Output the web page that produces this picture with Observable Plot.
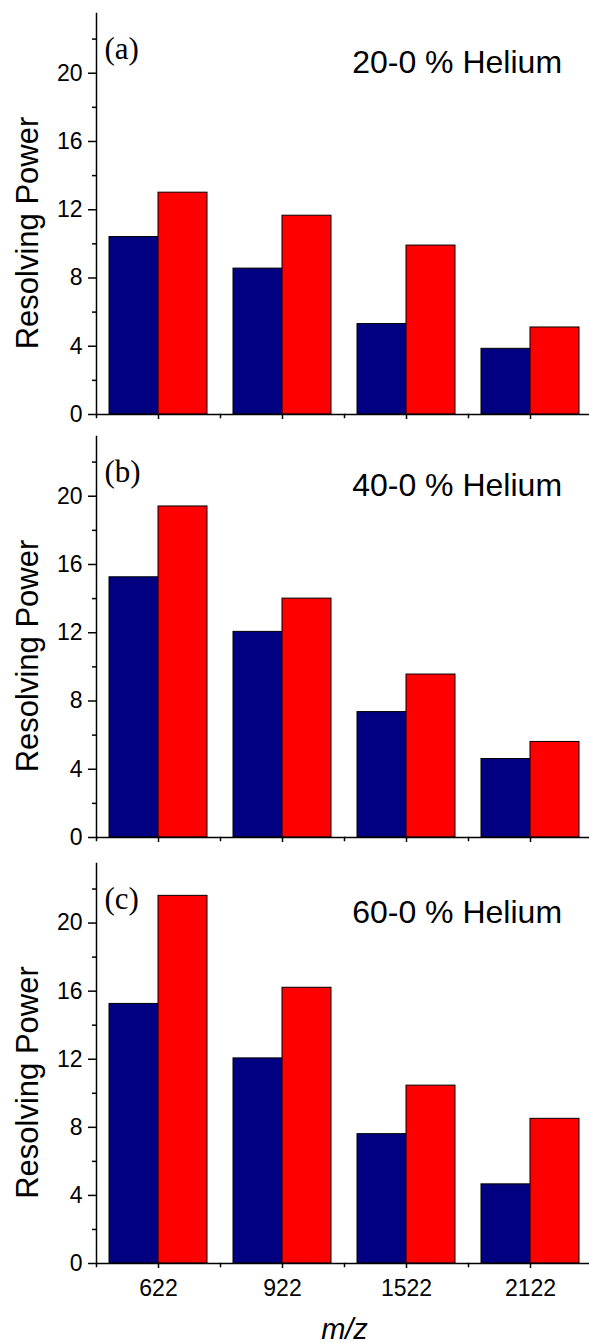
<!DOCTYPE html>
<html><head><meta charset="utf-8">
<script src="https://cdn.jsdelivr.net/npm/d3@7"></script>
<script src="https://cdn.jsdelivr.net/npm/@observablehq/plot@0.6"></script>
<style>
html,body{margin:0;padding:0;background:#fff;overflow:hidden;}
#chart svg{display:block;}
</style></head><body><div id="chart"></div>
<script>
// ---- data ----
const mzLabels = ["622", "922", "1522", "2122"];
const seriesKeys = ["series1", "series2"];
const seriesColors = ["#000080", "#ff0000"];
const panelLabels = ["(a)", "(b)", "(c)"];
const panelTitles = ["20-0 % Helium", "40-0 % Helium", "60-0 % Helium"];
const series1A = [10.4, 8.55, 5.3, 3.85];
const series2A = [13.0, 11.65, 9.9, 5.1];
const series1B = [15.25, 12.05, 7.35, 4.6];
const series2B = [19.4, 14.0, 9.55, 5.6];
const series1C = [15.25, 12.05, 7.6, 4.65];
const series2C = [21.6, 16.2, 10.45, 8.5];
const yTicks = [0, 4, 8, 12, 16, 20];
const yMinorTicks = [2, 6, 10, 14, 18, 22];
const yMax = 23.5;
const yLabel = "Resolving Power";
const xLabel = "m/z";

// ---- layout (styles) ----
const layouts = [
  {height: 425, top: 13, bottom: 11},
  {height: 425, top: 11, bottom: 13},
  {height: 493, top: 13, bottom: 80}
];
const font = "'Liberation Sans', Arial, Helvetica, sans-serif";

function panel(i, s1, s2) {
  const L = layouts[i];
  const plotH = L.height - L.top - L.bottom;
  const last = i === layouts.length - 1;
  const rows = mzLabels.flatMap((mz, j) => [
    {mz, series: seriesKeys[0], value: s1[j]},
    {mz, series: seriesKeys[1], value: s2[j]}
  ]);
  return Plot.plot({
    width: 589,
    height: L.height,
    marginLeft: 95,
    marginRight: -3,
    marginTop: L.top,
    marginBottom: L.bottom,
    style: {fontFamily: font, fontSize: "23px", color: "#000", background: "transparent", overflow: "visible"},
    fx: {domain: mzLabels, padding: 0, axis: null},
    x: {domain: seriesKeys, paddingInner: 0, paddingOuter: 0.242, axis: null},
    y: {domain: [0, yMax], axis: null},
    color: {domain: seriesKeys, range: seriesColors},
    marks: [
      Plot.barY(rows, {fx: "mz", x: "series", y: "value", fill: "series", stroke: "#000", strokeWidth: 1}),
      Plot.ruleY([0], {strokeWidth: 1.5}),
      Plot.frame({anchor: "left", facet: "super", strokeWidth: 1.5}),
      Plot.frame({anchor: "left", insetTop: plotH, insetBottom: -3, strokeWidth: 1.5}),
      Plot.axisY({ticks: yTicks, tickSize: 8, tickPadding: 6, label: null, strokeWidth: 1.5,
                  fontSize: 23, fontFamily: font}),
      Plot.axisY({ticks: yMinorTicks, tickSize: 4, tickFormat: () => "", label: null, strokeWidth: 1.5}),
      Plot.axisFx({anchor: "bottom", tickSize: 5, tickPadding: 11, label: null, fontSize: 23, fontFamily: font,
                   tickFormat: last ? (d) => d : () => "", strokeWidth: 1.5}),
      Plot.text([yLabel], {text: (d) => d, facet: "super", frameAnchor: "left", dx: -68, dy: 19,
                           rotate: -90, textAnchor: "middle", lineAnchor: "middle", fontSize: 31}),
      Plot.text([panelTitles[i]], {text: (d) => d, facet: "super", frameAnchor: "top-left",
                                   dx: 360.6, dy: 59.5, lineAnchor: "bottom", textAnchor: "middle", fontSize: 32}),
      Plot.text([panelLabels[i]], {text: (d) => d, facet: "super", frameAnchor: "top-left",
                                   dx: 8, dy: 36, textAnchor: "start", lineAnchor: "middle",
                                   fontFamily: "'Liberation Serif', 'Times New Roman', serif", fontSize: 31}),
      last ? Plot.text([xLabel], {text: (d) => d, facet: "super", frameAnchor: "bottom", dy: 75,
                                  lineAnchor: "bottom", fontStyle: "italic", fontSize: 29}) : null
    ]
  });
}

const chart = document.getElementById("chart");
chart.appendChild(panel(0, series1A, series2A));
chart.appendChild(panel(1, series1B, series2B));
chart.appendChild(panel(2, series1C, series2C));
</script>
</body></html>
